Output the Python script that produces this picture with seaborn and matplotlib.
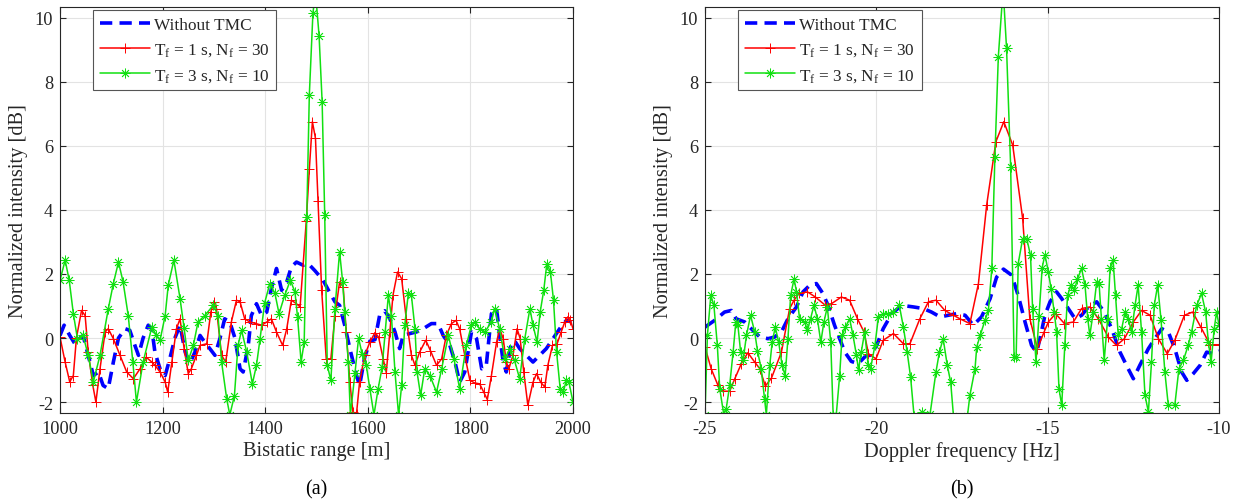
import numpy as np
import pandas as pd
import matplotlib
matplotlib.use("Agg")
import matplotlib.pyplot as plt
import seaborn as sns

# ---------------- data: panel (a) bistatic range ----------------
range_blue_x = [1000, 1008, 1019, 1029, 1039, 1045, 1055, 1065, 1075, 1084, 1094, 1104, 1114, 1127, 1136,
                1146, 1153, 1162, 1172, 1179, 1185, 1195, 1205, 1214, 1224, 1234, 1244, 1253, 1263, 1273,
                1282, 1292, 1302, 1312, 1321, 1331, 1341, 1351, 1357, 1367, 1373, 1383, 1393, 1403, 1412,
                1422, 1432, 1442, 1451, 1461, 1474, 1484, 1497, 1513, 1523, 1536, 1545, 1555, 1565, 1578,
                1584, 1594, 1604, 1614, 1623, 1633, 1643, 1653, 1662, 1669, 1682, 1695, 1708, 1724, 1737,
                1747, 1760, 1770, 1779, 1789, 1802, 1812, 1822, 1831, 1841, 1851, 1857, 1864, 1870, 1880,
                1888, 1896, 1909, 1922, 1935, 1948, 1961, 1974, 1987, 1997]
range_blue_y = [0.08, 0.4, 0.08, -0.18, 0.0, 0.08, -0.54, -1.17, -1.06, -1.48, -1.58, -0.75, 0.0, 0.29, 0.24,
                -0.23, -0.54, 0.0, 0.4, 0.29, -0.44, -0.96, -1.17, -0.65, 0.0, 0.4, -0.44, -0.8, -0.44, 0.08,
                -0.13, -0.33, -0.54, 0.0, 0.6, 0.5, 0.0, -0.96, -1.06, -0.23, 0.7, 1.07, 0.7, 0.81, 1.54,
                2.17, 1.49, 1.75, 2.22, 2.37, 2.27, 2.32, 2.1, 1.8, 1.5, 1.13, 1.02, 0.4, -0.33, -1.17,
                -1.48, -0.6, -0.1, -0.05, 0.7, 0.85, 0.6, 0.19, -0.33, 0.08, 0.14, 0.19, 0.29, 0.45, 0.45,
                0.08, -0.23, -0.75, -1.38, -1.06, 0.19, -0.02, -0.96, -0.85, 0.76, 0.92, 0.08, -0.75, -1.06, -0.13,
                -0.13, -0.33, -0.54, -0.75, -0.54, -0.33, -0.02, 0.29, 0.55, 0.5]

range_red_x = [1000, 1010, 1019, 1026, 1032, 1042, 1049, 1055, 1064, 1070, 1078, 1088, 1094, 1104, 1117,
               1130, 1143, 1156, 1168, 1179, 1185, 1195, 1205, 1210, 1218, 1227, 1234, 1242, 1250, 1256,
               1266, 1273, 1286, 1294, 1300, 1305, 1315, 1323, 1334, 1344, 1351, 1360, 1370, 1382, 1393,
               1403, 1412, 1422, 1434, 1442, 1451, 1461, 1468, 1480, 1486, 1492, 1498, 1503, 1510, 1519,
               1528, 1536, 1545, 1552, 1558, 1565, 1571, 1578, 1584, 1594, 1604, 1614, 1621, 1630, 1636,
               1643, 1649, 1658, 1666, 1675, 1685, 1692, 1701, 1713, 1722, 1734, 1744, 1753, 1763, 1772,
               1779, 1789, 1799, 1808, 1818, 1826, 1833, 1841, 1851, 1857, 1864, 1870, 1875, 1883, 1891,
               1897, 1904, 1912, 1922, 1929, 1937, 1945, 1951, 1960, 1969, 1977, 1984, 1990, 1995, 2000]
range_red_y = [0.03, -0.75, -1.37, -1.17, 0.0, 0.86, 0.7, -0.44, -1.48, -2.0, -0.96, 0.19, 0.29, -0.02, -0.54,
               -1.06, -1.27, -0.96, -0.6, -0.75, -0.85, -1.06, -1.37, -1.69, -0.75, 0.29, 0.6, -0.33, -1.11, -0.96,
               -0.54, -0.23, -0.18, 0.81, 1.13, 0.92, -0.54, -0.75, 0.5, 1.18, 1.13, 0.6, 0.5, 0.45, 0.4,
               0.5, 0.6, 0.19, -0.23, 0.29, 1.18, 1.07, 0.97, 3.64, 5.26, 6.75, 6.23, 4.27, 1.5, -0.65,
               -0.65, 0.7, 1.75, 1.6, 0.19, -1.37, -2.31, -2.36, -1.37, -0.54, -0.13, 0.17, 0.03, -0.65, -1.08,
               0.19, 1.33, 2.06, 1.85, 0.6, -0.54, -0.85, -0.44, -0.07, -0.39, -0.85, -0.65, 0.08, 0.45, 0.55,
               0.29, -0.54, -1.32, -1.4, -1.43, -1.69, -1.92, -1.17, -0.13, 0.29, -0.02, -0.75, -0.96, -0.54, 0.29,
               -0.02, -1.06, -2.1, -1.38, -1.11, -1.38, -1.53, -0.85, -0.23, -0.18, 0.19, 0.5, 0.66, 0.55, 0.29]

range_green_x = [1000, 1010, 1018, 1026, 1034, 1045, 1055, 1065, 1078, 1094, 1104, 1114, 1123, 1133, 1142,
                 1149, 1162, 1179, 1188, 1195, 1205, 1211, 1222, 1234, 1242, 1250, 1260, 1269, 1282, 1299,
                 1308, 1315, 1325, 1331, 1340, 1347, 1354, 1364, 1375, 1383, 1390, 1399, 1409, 1419, 1427,
                 1438, 1449, 1458, 1463, 1470, 1476, 1481, 1486, 1493, 1498, 1505, 1511, 1516, 1521, 1528,
                 1536, 1545, 1551, 1555, 1562, 1566, 1575, 1582, 1589, 1597, 1604, 1612, 1620, 1628, 1634,
                 1640, 1646, 1653, 1660, 1666, 1672, 1679, 1685, 1692, 1696, 1703, 1711, 1721, 1734, 1744,
                 1757, 1768, 1779, 1792, 1802, 1808, 1818, 1828, 1841, 1847, 1857, 1867, 1877, 1886, 1896,
                 1906, 1916, 1922, 1930, 1936, 1943, 1949, 1956, 1962, 1968, 1975, 1981, 1987, 1992, 2000]
range_green_y = [1.8, 2.43, 1.8, 0.76, -0.02, 0.08, -0.54, -1.37, -0.54, 0.9, 1.7, 2.37, 1.75, 0.7, -0.75,
                 -2.0, -0.75, 0.34, 0.08, -0.07, 0.7, 1.65, 2.43, 1.23, 0.3, -0.7, -0.23, 0.5, 0.7, 1.02,
                 0.7, -0.75, -1.9, -2.4, -1.8, -0.23, 0.24, -0.44, -1.43, -0.85, -0.02, 1.1, 1.7, 1.39, 0.76,
                 1.33, 1.8, 1.44, 0.66, -0.75, -0.13, 3.78, 7.58, 10.13, 10.8, 9.44, 7.37, 3.85, -0.85, -1.32,
                 0.92, 2.69, 1.75, 0.81, -0.75, -2.4, -1.1, 0.0, -0.5, -0.85, -1.58, -2.4, -1.6, -0.9, 0.2,
                 1.33, 0.7, -1.06, -2.4, -1.48, 0.4, 1.39, 1.33, 0.29, -1.06, -1.79, -0.96, -1.17, -1.69, -0.96,
                 0.08, -0.65, -1.58, -0.23, 0.4, 0.5, 0.29, 0.19, 0.5, 0.92, 0.29, -0.65, -0.33, -0.7, -1.27,
                 -0.02, 0.92, 0.4, -0.13, 0.81, 1.49, 2.32, 2.06, 1.18, -0.44, -1.58, -1.69, -1.32, -1.37, -2.0]

# ---------------- data: panel (b) Doppler frequency ----------------
dop_blue_x = [-25.0, -24.72, -24.43, -24.23, -24.09, -23.84, -23.65, -23.4, -23.16, -22.97, -22.77, -22.58,
              -22.33, -22.14, -21.94, -21.75, -21.56, -21.41, -21.22, -21.07, -20.92, -20.73, -20.53, -20.3,
              -20.19, -19.99, -19.8, -19.55, -19.26, -18.92, -18.63, -18.39, -18.14, -17.9, -17.66, -17.41,
              -17.17, -16.93, -16.68, -16.49, -16.29, -16.05, -15.86, -15.66, -15.47, -15.32, -15.2, -15.08,
              -14.93, -14.74, -14.59, -14.4, -14.2, -14.01, -13.81, -13.57, -13.38, -13.13, -12.89, -12.65,
              -12.5, -12.31, -12.06, -11.87, -11.67, -11.48, -11.29, -11.09, -10.94, -10.75, -10.55, -10.36,
              -10.16, -10.0]
dop_blue_y = [0.34, 0.55, 0.81, 0.86, 0.6, 0.5, 0.29, 0.03, -0.02, 0.03, 0.19, 0.6,
              0.97, 1.44, 1.65, 1.7, 1.39, 1.02, 0.4, -0.02, -0.44, -0.73, -0.8, -0.55,
              -0.54, -0.23, 0.29, 0.76, 1.02, 0.97, 0.92, 0.81, 0.66, 0.71, 0.76, 0.71,
              0.4, 0.66, 1.23, 1.9, 2.15, 1.96, 1.33, 0.5, -0.23, -0.44, 0.1, 0.71,
              1.13, 1.44, 1.23, 0.92, 0.6, 0.71, 0.97, 1.13, 0.86, 0.29, -0.44, -0.96,
              -1.27, -0.85, -0.33, -0.02, 0.29, 0.19, -0.33, -1.06, -1.32, -1.11, -0.85, -0.44,
              -0.49, -0.4]

dop_red_x = [-25.0, -24.82, -24.62, -24.47, -24.28, -24.13, -23.94, -23.75, -23.55, -23.4, -23.24, -23.06,
             -22.77, -22.53, -22.4, -22.26, -22.01, -21.78, -21.51, -21.31, -21.02, -20.78, -20.55, -20.36,
             -20.23, -20.01, -19.8, -19.5, -19.21, -19.02, -18.73, -18.48, -18.26, -18.0, -17.75, -17.56,
             -17.27, -17.02, -16.78, -16.51, -16.28, -16.02, -15.73, -15.52, -15.3, -15.1, -14.98, -14.77,
             -14.51, -14.25, -14.01, -13.77, -13.52, -13.23, -12.99, -12.76, -12.5, -12.26, -12.01, -11.77,
             -11.51, -11.29, -11.01, -10.77, -10.53, -10.26, -10.0]
dop_red_y = [-0.28, -0.96, -1.48, -1.66, -1.66, -1.27, -0.8, -0.46, -0.75, -0.96, -1.5, -1.25,
             -0.44, 0.92, 1.18, 1.39, 1.44, 1.28, 1.04, 1.07, 1.28, 1.18, 0.6, 0.19,
             -0.49, -0.65, -0.07, 0.14, -0.18, -0.18, 0.6, 1.13, 1.18, 0.86, 0.71, 0.6,
             0.45, 1.7, 4.15, 6.13, 6.75, 6.02, 3.73, 0.6, -0.33, 0.2, 0.5, 0.76,
             0.45, 0.5, 0.92, 0.97, 0.6, 0.03, -0.23, -0.02, 0.5, 0.86, 0.71, -0.02,
             -0.49, -0.07, 0.71, 0.81, 0.34, -0.21, -0.21]

dop_green_x = [-25.0, -24.93, -24.83, -24.74, -24.64, -24.57, -24.45, -24.38, -24.28, -24.18, -24.1, -24.04,
               -23.96, -23.89, -23.79, -23.67, -23.55, -23.47, -23.36, -23.26, -23.21, -23.11, -23.04, -22.95,
               -22.85, -22.75, -22.66, -22.58, -22.5, -22.4, -22.33, -22.24, -22.09, -22.01, -21.92, -21.82,
               -21.72, -21.62, -21.53, -21.43, -21.33, -21.26, -21.17, -21.07, -21.0, -20.9, -20.78, -20.68,
               -20.58, -20.52, -20.44, -20.34, -20.24, -20.17, -20.04, -19.94, -19.8, -19.65, -19.5, -19.33,
               -19.21, -19.1, -19.0, -18.9, -18.68, -18.43, -18.26, -18.16, -18.05, -17.93, -17.83, -17.75,
               -17.34, -17.27, -17.12, -17.07, -16.97, -16.83, -16.73, -16.63, -16.54, -16.44, -16.3, -16.2,
               -16.08, -15.98, -15.92, -15.86, -15.73, -15.61, -15.5, -15.44, -15.34, -15.25, -15.16, -15.08,
               -14.98, -14.9, -14.81, -14.74, -14.67, -14.59, -14.5, -14.42, -14.32, -14.22, -14.13, -14.01,
               -13.91, -13.83, -13.77, -13.67, -13.57, -13.5, -13.43, -13.35, -13.25, -13.18, -13.09, -13.02,
               -12.94, -12.84, -12.74, -12.65, -12.55, -12.45, -12.36, -12.26, -12.16, -12.06, -11.97, -11.89,
               -11.79, -11.69, -11.58, -11.48, -11.29, -11.17, -11.04, -10.9, -10.8, -10.65, -10.51, -10.39,
               -10.31, -10.23, -10.14, -10.07, -10.0]
dop_green_y = [-2.4, 0.08, 1.33, 1.02, -0.23, -1.58, -2.4, -2.2, -1.48, -0.44, 0.5, 0.4,
               -0.44, -0.7, 0.08, 0.71, 0.19, -0.39, -0.96, -1.9, -2.4, -0.85, -0.13, 0.34,
               -0.13, -0.85, -1.17, -0.02, 1.33, 1.85, 1.44, 0.6, 0.5, 0.24, 0.6, 1.02,
               0.6, -0.13, 0.5, 0.97, -0.13, -2.4, -2.4, -1.17, 0.08, 0.34, 0.6, 0.08,
               -0.54, -1.0, -0.44, 0.19, -0.85, -0.96, -0.23, 0.66, 0.76, 0.76, 0.81, 1.02,
               0.34, -0.44, -1.22, -2.42, -2.31, -2.36, -1.06, -0.44, -0.02, -0.85, -1.38, -2.42,
               -2.42, -1.79, -0.96, -0.28, 0.08, 0.55, 0.86, 2.17, 5.66, 8.78, 10.9, 9.04,
               5.34, -0.59, -0.6, 2.32, 3.1, 3.1, 2.58, 0.92, -0.75, 0.7, 2.2, 2.6,
               2.06, 1.54, 0.81, 0.19, -1.58, -2.1, -0.23, 1.33, 1.65, 1.49, 1.85, 2.17,
               1.65, 0.6, 0.08, 0.81, 1.75, 1.7, 0.6, -0.7, 0.6, 2.17, 2.43, 1.33,
               0.08, 0.29, 0.81, 0.6, 0.19, 1.02, 1.65, 0.19, -1.79, -2.31, -0.75, 1.02,
               1.65, 0.55, -1.06, -2.1, -2.1, -0.96, -0.7, -0.23, 0.19, 1.02, 1.39, 0.81,
               -0.13, -0.75, 0.29, 0.81, 0.4]

legend_labels = ["Without TMC",
                 r"T$_\mathregular{f}$ = 1 s, N$_\mathregular{f}$ = 30",
                 r"T$_\mathregular{f}$ = 3 s, N$_\mathregular{f}$ = 10"]
range_ticks = [1000, 1200, 1400, 1600, 1800, 2000]
dop_ticks = [-25, -20, -15, -10]
y_ticks = [-2, 0, 2, 4, 6, 8, 10]

# ---------------- style ----------------
sns.set_theme(style="white")
plt.rcParams.update({
    "font.family": ["Liberation Serif", "DejaVu Serif"],
    "mathtext.fontset": "custom",
    "mathtext.rm": "Liberation Serif",
    "mathtext.it": "Liberation Serif:italic",
    "axes.unicode_minus": False,
    "xtick.direction": "in",
    "ytick.direction": "in",
    "xtick.top": True,
    "ytick.right": True,
    "xtick.bottom": True,
    "ytick.left": True,
})

TXT = "#262626"
BLUE = "#0000ff"
RED = "#ff0000"
GREEN = "#11e011"

fig = plt.figure(figsize=(12.43, 5.02), dpi=100)
ax_a = fig.add_axes([60 / 1243, 88 / 502, 513 / 1243, 406 / 502])
ax_b = fig.add_axes([705 / 1243, 88 / 502, 514 / 1243, 406 / 502])

asterisk = (8, 2, 0)


def draw(ax, bx, by, rx, ry, gx, gy):
    sns.lineplot(x=bx, y=by, ax=ax, color=BLUE, lw=2.6, linestyle=(0, (3.4, 2.0)),
                 label=legend_labels[0], errorbar=None, sort=False)
    sns.lineplot(x=rx, y=ry, ax=ax, color=RED, lw=1.1, marker="+", markersize=7,
                 markeredgecolor=RED, markeredgewidth=0.7, label=legend_labels[1],
                 errorbar=None, sort=False)
    sns.lineplot(x=gx, y=gy, ax=ax, color=GREEN, lw=1.1, marker=asterisk, markersize=7,
                 markeredgecolor=GREEN, markeredgewidth=0.6, label=legend_labels[2],
                 errorbar=None, sort=False)
    ax.set_ylim(-2.34, 10.33)
    ax.set_yticks(y_ticks)
    ax.grid(True, color="#e3e3e3", lw=0.8)
    ax.set_axisbelow(True)
    for s in ax.spines.values():
        s.set_color(TXT)
        s.set_linewidth(0.8)
        s.set_visible(True)
    ax.tick_params(axis="both", labelsize=13.2, colors=TXT, length=4, width=0.8, pad=5)
    ax.set_ylabel("Normalized intensity [dB]", fontsize=14.7, color=TXT, labelpad=5)
    leg = ax.legend(loc="upper left", bbox_to_anchor=(0.064, 0.993), borderaxespad=0,
                    fontsize=12.4, frameon=True, fancybox=False, framealpha=1,
                    edgecolor="#555555", handlelength=2.9, handletextpad=0.25,
                    labelspacing=0.5, borderpad=0.4)
    leg.get_frame().set_linewidth(0.8)
    for t in leg.get_texts():
        t.set_color(TXT)


draw(ax_a, range_blue_x, range_blue_y, range_red_x, range_red_y, range_green_x, range_green_y)
ax_a.set_xlim(1000, 2000)
ax_a.set_xticks(range_ticks)
ax_a.set_xlabel("Bistatic range [m]", fontsize=14.7, color=TXT, labelpad=3)

draw(ax_b, dop_blue_x, dop_blue_y, dop_red_x, dop_red_y, dop_green_x, dop_green_y)
ax_b.set_xlim(-25, -10)
ax_b.set_xticks(dop_ticks)
ax_b.set_xlabel("Doppler frequency [Hz]", fontsize=14.7, color=TXT, labelpad=3)

fig.text(316 / 1243, 1 - 490 / 502, "(a)", ha="center", va="center", fontsize=14.5, color="black")
fig.text(962 / 1243, 1 - 490 / 502, "(b)", ha="center", va="center", fontsize=14.5, color="black")

fig.savefig("out.png", dpi=100)
